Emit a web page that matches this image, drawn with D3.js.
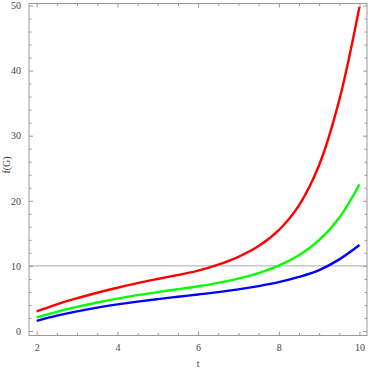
<!DOCTYPE html>
<html>
<head>
<meta charset="utf-8">
<script src="https://cdn.jsdelivr.net/npm/d3@7"></script>
<style>
  body { margin: 0; background: #fff; }
  .frame line, .frame path { stroke: #999; }
  .frame text { font-family: "Liberation Serif", "DejaVu Serif", serif; font-size: 10px; fill: #444; }
</style>
</head>
<body>
<svg id="chart"></svg>
<script>
// values
const tValues = [2, 2.5, 3, 3.5, 4, 4.5, 5, 5.5, 6, 6.5, 7, 7.5, 8, 8.5, 9, 9.5, 10];
const redValues = [3.0, 4.1, 5.03, 5.88, 6.65, 7.35, 7.99, 8.61, 9.27, 10.2, 11.4, 13.05, 15.5, 19.3, 25.5, 35.5, 49.8];
const greenValues = [2.1, 2.95, 3.7, 4.38, 4.98, 5.51, 5.98, 6.42, 6.87, 7.4, 8.05, 8.9, 10.05, 11.65, 13.95, 17.4, 22.5];
const blueValues = [1.55, 2.35, 3.02, 3.59, 4.09, 4.52, 4.9, 5.26, 5.61, 5.97, 6.39, 6.89, 7.5, 8.3, 9.35, 11.0, 13.2];
const xMajorTicks = [2, 4, 6, 8, 10];
const yMajorTicks = [0, 10, 20, 30, 40, 50];
const gridValues = [10];

const width = 368, height = 369;
const frame = {left: 29, right: 367, top: 3.5, bottom: 335.5};

const svg = d3.select("#chart")
  .attr("width", width)
  .attr("height", height);

// scales
const x = d3.scaleLinear().domain([2, 10]).range([36.7, 359.5]);
const y = d3.scaleLinear().domain([0, 50]).range([331, 5.5]);

const xMinor = d3.range(2, 10.01, 0.5).filter(v => !xMajorTicks.includes(v));
const yMinor = d3.range(0, 50.01, 2).filter(v => !yMajorTicks.includes(v));

// grid line
svg.append("g")
  .selectAll("line")
  .data(gridValues)
  .join("line")
  .attr("x1", frame.left).attr("x2", frame.right)
  .attr("y1", d => y(d)).attr("y2", d => y(d))
  .attr("stroke", "#aaa")
  .attr("stroke-width", 1);

// curves
const line = d3.line()
  .x(d => x(d[0]))
  .y(d => y(d[1]))
  .curve(d3.curveCatmullRom.alpha(0.5));

const series = [
  {values: blueValues, color: "#0000ff"},
  {values: greenValues, color: "#00ff00"},
  {values: redValues, color: "#ff0000"}
];

svg.append("g")
  .selectAll("path")
  .data(series)
  .join("path")
  .attr("d", s => line(tValues.map((t, i) => [t, s.values[i]])))
  .attr("fill", "none")
  .attr("stroke", s => s.color)
  .attr("stroke-width", 2.4);

// frame: ticks point inwards on all four sides
function drawAxis(axisFn, scale, major, minor, transform, labels) {
  const g = svg.append("g").attr("class", "frame").attr("transform", transform);
  g.call(axisFn(scale).tickValues(major).tickSize(-4).tickPadding(labels ? 8 : 0)
    .tickFormat(labels ? d3.format("d") : ""));
  g.select(".domain").remove();
  g.append("g").call(axisFn(scale).tickValues(minor).tickSize(-2.5).tickFormat(""))
    .select(".domain").remove();
  return g;
}

drawAxis(d3.axisBottom, x, xMajorTicks, xMinor, `translate(0,${frame.bottom})`, true);
drawAxis(d3.axisTop, x, xMajorTicks, xMinor, `translate(0,${frame.top})`, false);
drawAxis(d3.axisLeft, y, yMajorTicks, yMinor, `translate(${frame.left},0)`, true);
drawAxis(d3.axisRight, y, yMajorTicks, yMinor, `translate(${frame.right},0)`, false);

svg.append("rect")
  .attr("x", frame.left).attr("y", frame.top)
  .attr("width", frame.right - frame.left)
  .attr("height", frame.bottom - frame.top)
  .attr("fill", "none")
  .attr("stroke", "#999")
  .attr("stroke-width", 1);

// axis labels
svg.append("text")
  .attr("x", x(6)).attr("y", 367)
  .attr("text-anchor", "middle")
  .style("font-family", "'Liberation Serif', serif")
  .style("font-size", "10px")
  .attr("fill", "#444")
  .text("t");

svg.append("text")
  .attr("transform", "translate(10,165) rotate(-90)")
  .attr("text-anchor", "middle")
  .style("font-family", "'Liberation Serif', serif")
  .style("font-size", "10px")
  .attr("fill", "#444")
  .text("f(G)");
</script>
</body>
</html>
